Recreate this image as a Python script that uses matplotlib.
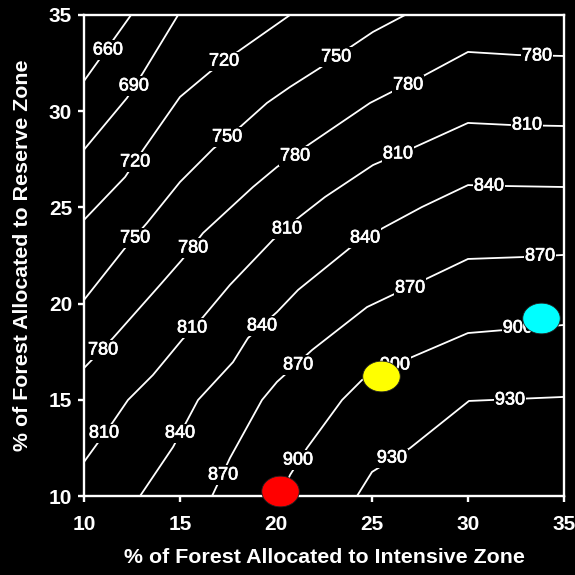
import numpy as np
import matplotlib
matplotlib.use("Agg")
import matplotlib.pyplot as plt
import matplotlib.patheffects as pe
from matplotlib.path import Path

plt.rcParams['font.family'] = ['Liberation Sans', 'DejaVu Sans']

# Contour lines of the objective surface: (intensive %, reserve %) vertices per level
levels = [660, 690, 720, 750, 780, 810, 840, 870, 900, 930]

c660_x = [10.0, 12.45]
c660_y = [31.57, 35.0]

c690_x = [10.0, 10.94, 12.24, 13.07, 14.9]
c690_y = [28.0, 29.13, 30.69, 31.99, 35.0]

c720_x = [10.0, 12.14, 13.07, 15.0, 16.56, 18.13, 20.73]
c720_y = [24.35, 26.58, 27.98, 30.74, 32.04, 33.18, 35.0]

c750_x = [10.0, 12.14, 13.28, 15.0, 16.72, 18.13, 19.53, 20.73, 22.29, 23.96, 25.05, 26.72]
c750_y = [20.19, 22.89, 24.19, 26.32, 28.04, 29.18, 30.43, 31.26, 32.25, 33.39, 34.12, 35.0]

c780_x = [10.0, 11.51, 13.96, 15.1, 16.2, 18.8, 20.05, 21.67, 24.9, 27.76, 30.0, 32.6, 35.0]
c780_y = [16.65, 18.21, 20.97, 22.27, 23.67, 26.06, 27.1, 28.24, 30.43, 31.88, 33.08, 32.92, 32.87]

c810_x = [10.0, 11.51, 12.29, 13.59, 15.1, 16.2, 17.6, 19.84, 21.15, 22.55, 25.05, 27.24, 30.0, 32.29, 35.0]
c810_y = [11.77, 13.85, 14.99, 16.29, 18.11, 19.3, 20.97, 23.31, 24.45, 25.54, 27.2, 28.14, 29.39, 29.28, 29.23]

c840_x = [12.92, 14.64, 15.94, 17.76, 18.54, 20.05, 21.15, 23.85, 25.57, 27.6, 30.0, 32.03, 35.0]
c840_y = [10.0, 12.55, 14.99, 16.96, 18.21, 19.56, 20.71, 22.89, 23.93, 25.02, 26.16, 26.11, 26.06]

c870_x = [16.67, 17.6, 19.27, 20.05, 21.88, 24.74, 27.92, 30.0, 32.86, 35.0]
c870_y = [10.0, 11.97, 14.99, 15.93, 17.59, 19.82, 21.33, 22.32, 22.42, 22.53]

c900_x = [20.26, 20.73, 21.61, 23.44, 24.48, 27.08, 30.0, 31.93, 35.0]
c900_y = [10.0, 11.09, 12.49, 14.99, 16.03, 17.22, 18.47, 18.63, 18.89]

c930_x = [24.22, 25.0, 26.98, 30.05, 35.0]
c930_y = [10.0, 11.25, 12.49, 14.94, 15.15]

# Inline level labels along each line
lab_val = [660, 690, 720, 720, 750, 750, 750,
           780, 780, 780, 780, 780,
           810, 810, 810, 810, 810,
           840, 840, 840, 840,
           870, 870, 870, 870,
           900, 900, 900,
           930, 930]
lab_x = [11.25, 12.6, 12.66, 17.29, 12.66, 17.45, 23.13,
         10.99, 15.68, 20.99, 26.88, 33.59,
         11.04, 15.63, 20.57, 26.35, 33.07,
         15.0, 19.27, 24.64, 31.09,
         17.24, 21.15, 26.98, 33.75,
         21.15, 26.2, 32.6,
         26.04, 32.19]
lab_y = [33.18, 31.31, 27.36, 32.6, 23.41, 28.66, 32.82,
         17.59, 22.89, 27.67, 31.36, 32.87,
         13.27, 18.73, 23.88, 27.78, 29.28,
         13.27, 18.84, 23.41, 26.11,
         11.09, 16.81, 20.81, 22.47,
         11.87, 16.81, 18.73,
         11.97, 14.99]

# Highlighted allocations
pt_x = [20.23, 25.47, 33.78]
pt_y = [10.26, 16.26, 19.25]
pt_color = ['#ff0000', '#ffff00', '#00ffff']

x_ticks = [10, 15, 20, 25, 30, 35]
y_ticks = [10, 15, 20, 25, 30, 35]

fig = plt.figure(figsize=(5.75, 5.75), dpi=100, facecolor='black')
ax = fig.add_axes([84 / 575, 79 / 575, 480 / 575, 481 / 575], facecolor='black')

lines = [(c660_x, c660_y), (c690_x, c690_y), (c720_x, c720_y), (c750_x, c750_y),
         (c780_x, c780_y), (c810_x, c810_y), (c840_x, c840_y), (c870_x, c870_y),
         (c900_x, c900_y), (c930_x, c930_y)]
for xs, ys in lines:
    ax.plot(xs, ys, color='white', lw=1.3, zorder=2, clip_on=True)

for v, x, y in zip(lab_val, lab_x, lab_y):
    ax.text(x, y, str(v), color='white', fontsize=13, ha='center', va='center',
            zorder=3, bbox=dict(boxstyle='square,pad=0.06', fc='black', ec='none'),
            path_effects=[pe.withStroke(linewidth=0.5, foreground='white')])

# Elliptical dots
t = np.linspace(0, 2 * np.pi, 60)
ell = Path(np.column_stack([np.cos(t), 0.82 * np.sin(t)]), closed=True)
for x, y, c in zip(pt_x, pt_y, pt_color):
    ax.plot([x], [y], marker=ell, markersize=27, color=c, markeredgecolor='#202020',
            markeredgewidth=0.6, linestyle='none', zorder=5, clip_on=False)

ax.set_xlim(10, 35)
ax.set_ylim(10, 35)
ax.set_xticks(x_ticks)
ax.set_yticks(y_ticks)
for s in ax.spines.values():
    s.set_color('white')
    s.set_linewidth(1.7)
ax.tick_params(colors='white', width=1.7, length=4.5, direction='out',
               labelsize=15)
ax.tick_params(axis='x', pad=9)
ax.tick_params(axis='y', pad=4)
for lab in ax.get_xticklabels() + ax.get_yticklabels():
    lab.set_fontweight('bold')

ax.set_xlabel('% of Forest Allocated to Intensive Zone', color='white',
              fontsize=15.4, fontweight='bold', labelpad=10)
ax.set_ylabel('% of Forest Allocated to Reserve Zone', color='white',
              fontsize=15.4, fontweight='bold', labelpad=12)

fig.savefig('out.png', dpi=100, facecolor='black')
